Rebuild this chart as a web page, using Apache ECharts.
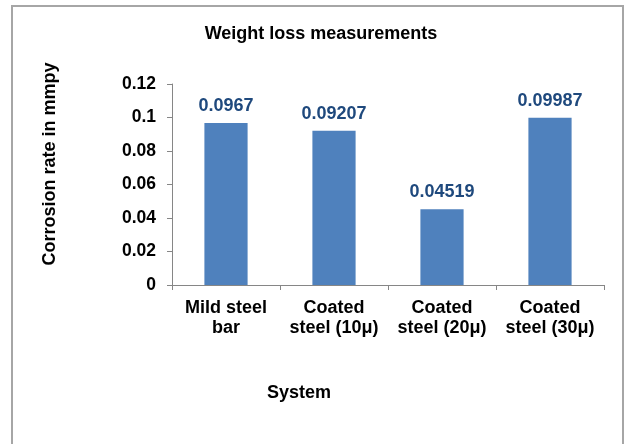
<!DOCTYPE html>
<html>
<head>
<meta charset="utf-8">
<script src="https://cdn.jsdelivr.net/npm/echarts@6/dist/echarts.min.js"></script>
<style>
  html, body { margin: 0; padding: 0; background: #fff; }
  #chart { width: 626px; height: 444px; }
</style>
</head>
<body>
<div id="chart"></div>
<script>
// Corrosion rate (mmpy) per system, from weight loss tests
const systems = ['Mild steel\nbar', 'Coated\nsteel (10μ)', 'Coated\nsteel (20μ)', 'Coated\nsteel (30μ)'];
const corrosionRates = [0.0967, 0.09207, 0.04519, 0.09987];
const yTicks = [0, 0.02, 0.04, 0.06, 0.08, 0.1, 0.12];

const FONT = '"Liberation Sans", Arial, sans-serif';
const chart = echarts.init(document.getElementById('chart'), null, { renderer: 'canvas' });

chart.setOption({
  animation: false,
  backgroundColor: '#ffffff',
  textStyle: { fontFamily: FONT },
  title: {
    text: 'Weight loss measurements',
    left: 316,
    top: 20,
    textAlign: 'center',
    textStyle: { fontFamily: FONT, fontSize: 18, fontWeight: 'bold', color: '#000' }
  },
  graphic: [{
    type: 'rect',
    shape: { x: 12, y: 6, width: 611, height: 460 },
    style: { fill: 'none', stroke: '#a6a6a6', lineWidth: 2 },
    silent: true
  }, {
    // y-axis title, placed a bit above the plot's vertical centre
    type: 'text',
    x: 50,
    y: 164,
    rotation: Math.PI / 2,
    style: {
      text: 'Corrosion rate in mmpy',
      font: 'bold 18px ' + FONT,
      fill: '#000',
      align: 'center',
      verticalAlign: 'middle'
    },
    silent: true
  }],
  grid: { left: 172, right: 22, top: 84, bottom: 159, containLabel: false },
  xAxis: {
    type: 'category',
    data: systems,
    name: 'System',
    nameLocation: 'middle',
    nameGap: 99,
    nameTextStyle: { fontFamily: FONT, fontSize: 18, fontWeight: 'bold', color: '#000', padding: [0, 0, 0, -178] },
    axisLine: { lineStyle: { color: '#868686', width: 1 } },
    axisTick: { show: true, alignWithLabel: false, length: 5, lineStyle: { color: '#868686' } },
    axisLabel: {
      fontFamily: FONT, fontSize: 18, fontWeight: 'bold', color: '#000',
      margin: 13, lineHeight: 20, interval: 0
    }
  },
  yAxis: {
    type: 'value',
    min: 0,
    max: yTicks[yTicks.length - 1],
    interval: yTicks[1] - yTicks[0],
    axisLine: { show: true, lineStyle: { color: '#868686', width: 1 } },
    axisTick: { show: true, length: 5, lineStyle: { color: '#868686' } },
    splitLine: { show: false },
    axisLabel: {
      fontFamily: FONT, fontSize: 17.5, fontWeight: 'bold', color: '#000', margin: 16,
      formatter: v => String(parseFloat(v.toFixed(2)))
    }
  },
  series: [{
    type: 'bar',
    data: corrosionRates,
    barWidth: '40%',
    itemStyle: { color: '#4f81bd' },
    label: {
      show: true,
      position: 'top',
      distance: 8,
      fontFamily: FONT, fontSize: 18, fontWeight: 'bold', color: '#1f497d'
    }
  }]
});
</script>
</body>
</html>
